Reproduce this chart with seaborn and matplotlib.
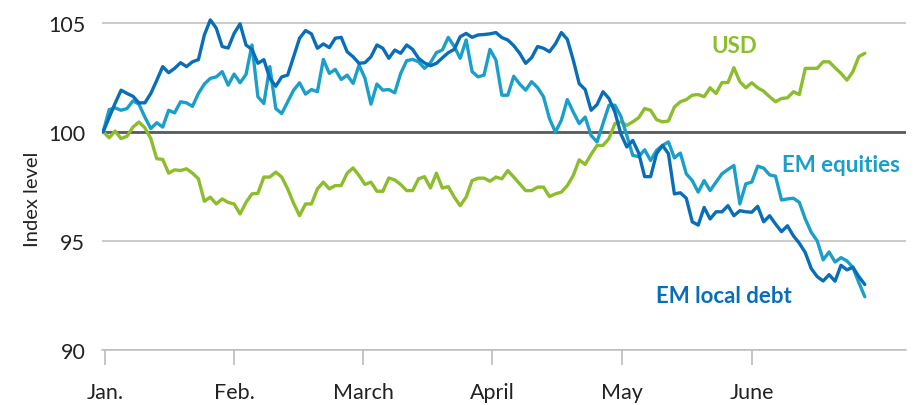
import matplotlib
matplotlib.use("Agg")
import pandas as pd
import matplotlib.pyplot as plt
import seaborn as sns

# index levels, rebased to 100 at start of year
usd = [100.0, 99.72, 100.03, 99.68, 99.79, 100.21, 100.44, 100.18, 99.68, 98.76,
       98.73, 98.1, 98.25, 98.22, 98.3, 98.1, 97.84, 96.81, 97.0, 96.69,
       96.92, 96.76, 96.69, 96.23, 96.76, 97.15, 97.18, 97.92, 97.92, 98.15,
       97.92, 97.38, 96.72, 96.15, 96.69, 96.69, 97.38, 97.69, 97.38, 97.53,
       97.53, 98.1, 98.34, 97.99, 97.58, 97.69, 97.27, 97.27, 97.88, 97.79,
       97.58, 97.3, 97.3, 97.84, 97.94, 97.42, 98.1, 97.42, 97.48, 97.0,
       96.61, 97.0, 97.76, 97.87, 97.87, 97.73, 97.92, 97.84, 98.22, 97.92,
       97.61, 97.3, 97.3, 97.46, 97.46, 97.03, 97.15, 97.23, 97.53, 97.99,
       98.71, 98.5, 98.96, 99.37, 99.37, 99.68, 100.37, 100.45, 100.29, 100.45,
       100.64, 101.06, 100.98, 100.55, 100.45, 100.49, 101.13, 101.37, 101.47, 101.67,
       101.7, 101.6, 102.01, 101.75, 102.25, 102.25, 102.93, 102.29, 102.01, 102.24,
       102.01, 101.85, 101.6, 101.37, 101.52, 101.55, 101.83, 101.7, 102.9, 102.9,
       102.9, 103.2, 103.2, 102.93, 102.67, 102.36, 102.75, 103.44, 103.59]

em_equities = [100.0, 101.01, 101.09, 100.98, 101.06, 101.41, 101.26, 100.67, 100.14, 100.41,
               100.21, 100.98, 100.86, 101.37, 101.32, 101.16, 101.75, 102.18, 102.44, 102.51,
               102.75, 102.13, 102.64, 102.24, 102.62, 103.97, 101.6, 101.29, 102.98, 101.06,
               100.83, 101.37, 101.9, 102.24, 101.72, 101.93, 101.83, 103.31, 102.67, 102.85,
               102.39, 102.59, 102.21, 103.05, 102.44, 101.26, 102.18, 101.9, 101.93, 101.78,
               102.67, 103.25, 103.31, 103.2, 102.9, 103.16, 103.62, 103.74, 104.32, 103.9,
               103.36, 104.2, 102.75, 102.51, 102.59, 103.77, 103.28, 101.67, 101.67, 102.54,
               102.18, 101.9, 102.29, 102.02, 101.6, 100.6, 99.98, 100.52, 101.47, 100.9,
               100.37, 100.67, 99.83, 99.53, 100.37, 101.21, 101.21, 100.7, 99.83, 98.91,
               98.86, 99.17, 98.68, 99.14, 99.37, 99.53, 98.8, 99.02, 98.07, 97.76,
               97.23, 97.76, 97.3, 97.69, 98.07, 98.27, 98.45, 96.69, 97.61, 97.69,
               98.42, 98.33, 98.02, 97.96, 96.87, 96.92, 96.95, 96.76, 96.0, 95.39,
               95.0, 94.13, 94.49, 94.03, 94.23, 94.08, 93.78, 93.09, 92.44]

em_local_debt = [100.0, 100.65, 101.3, 101.9, 101.75, 101.62, 101.32, 101.32, 101.75, 102.35,
                 102.98, 102.7, 102.9, 103.16, 102.98, 103.2, 103.3, 104.43, 105.12, 104.74,
                 103.9, 103.83, 104.5, 104.94, 103.97, 103.77, 103.13, 103.3, 102.44, 102.08,
                 102.51, 102.59, 103.44, 104.28, 104.63, 104.48, 103.82, 104.02, 103.85, 104.28,
                 104.32, 103.66, 103.43, 103.13, 103.16, 103.43, 103.97, 103.82, 103.36, 103.74,
                 103.59, 103.97, 103.77, 103.36, 103.15, 103.02, 103.13, 103.38, 103.62, 103.77,
                 104.35, 104.5, 104.32, 104.43, 104.45, 104.48, 104.54, 104.31, 104.2, 103.94,
                 103.59, 103.13, 103.39, 103.9, 103.82, 103.66, 104.02, 104.54, 104.23, 103.28,
                 102.2, 101.93, 100.98, 101.24, 101.83, 101.52, 100.9, 99.9, 99.3, 99.6,
                 99.02, 97.94, 97.94, 98.99, 99.37, 98.99, 97.15, 97.2, 96.95, 95.87,
                 95.72, 96.53, 96.0, 96.33, 96.33, 96.61, 96.15, 96.38, 96.33, 96.31,
                 96.58, 95.87, 96.15, 95.77, 95.42, 95.69, 95.23, 94.89, 94.46, 93.73,
                 93.36, 93.16, 93.45, 93.15, 93.88, 93.67, 93.79, 93.36, 93.0]

months = ["Jan.", "Feb.", "March", "April", "May", "June"]
month_pos = [0.3, 22.0, 43.7, 65.4, 87.2, 109.0]

colors = {"USD": "#8cbd2b", "EM equities": "#1a9fcb", "EM local debt": "#0a6db7"}

df = pd.DataFrame({"USD": usd, "EM equities": em_equities, "EM local debt": em_local_debt})
df["day"] = range(len(df))
long = df.melt(id_vars="day", var_name="series", value_name="level")

sns.set_theme(style="white")
plt.rcParams["font.family"] = ["Lato", "DejaVu Sans"]

fig = plt.figure(figsize=(9.15, 4.06), dpi=100)
ax = fig.add_axes([0.1115, 0.1355, 0.8785, 0.855])

ax.axhline(100, color="#5a5a5a", lw=2.0, zorder=1)
sns.lineplot(data=long, x="day", y="level", hue="series", palette=colors,
             linewidth=2.4, legend=False, ax=ax, zorder=3)

ax.set_xlim(-0.2, 134.9)
ax.set_ylim(90, 105.9)
ax.set_yticks([90, 95, 100, 105])
ax.yaxis.grid(True, color="#bdbdbd", lw=1.1, zorder=0)
ax.set_axisbelow(True)

ax.set_xticks(month_pos)
ax.set_xticklabels(months)
ax.tick_params(axis="x", direction="out", length=11, width=1.1, color="#b5b5b5",
               pad=12, labelsize=15.5, labelcolor="#222222", bottom=True)
ax.tick_params(axis="y", length=0, pad=12, labelsize=15.5, labelcolor="#222222")

for s in ["top", "right", "left"]:
    ax.spines[s].set_visible(False)
ax.spines["bottom"].set_color("#bdbdbd")
ax.spines["bottom"].set_linewidth(1.1)

ax.set_xlabel("")
ax.set_ylabel("Index level", fontsize=14.5, color="#222222")
ax.yaxis.set_label_coords(-0.076, 0.436)

ax.text(106.0, 103.96, "USD", color=colors["USD"], fontsize=16,
        fontweight="bold", ha="center", va="center")
ax.text(124.0, 98.48, "EM equities", color=colors["EM equities"], fontsize=16,
        fontweight="bold", ha="center", va="center")
ax.text(104.3, 92.5, "EM local debt", color=colors["EM local debt"], fontsize=16,
        fontweight="bold", ha="center", va="center")

fig.savefig("out.png", dpi=100)
